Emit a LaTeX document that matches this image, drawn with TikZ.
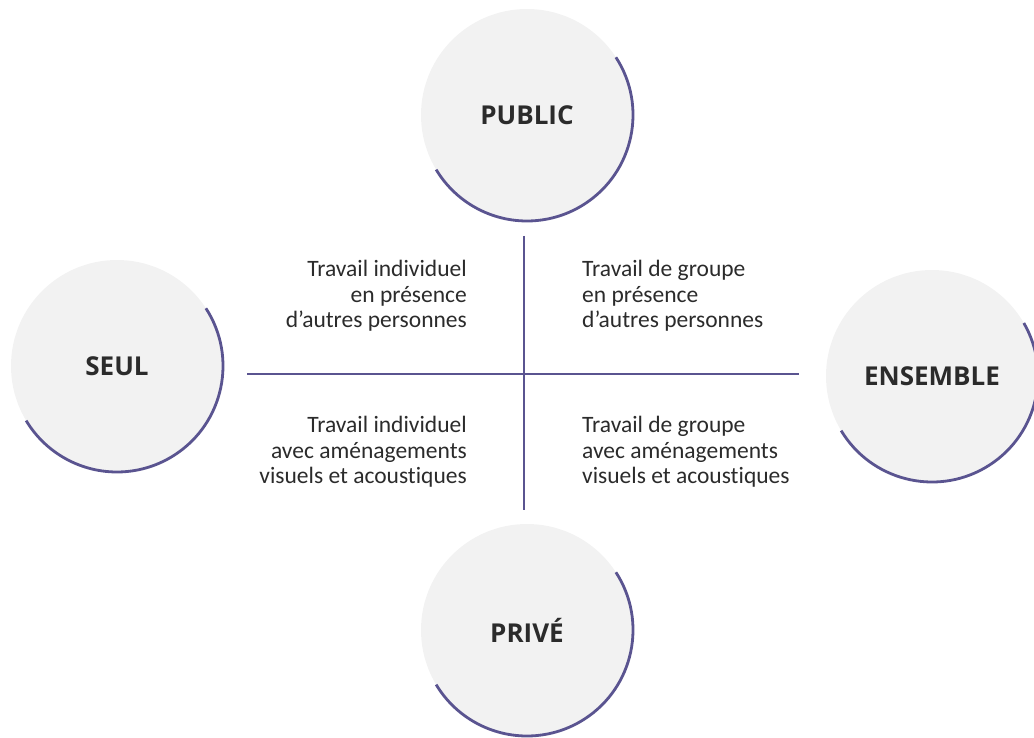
\documentclass[tikz,border=0pt]{standalone}
\usepackage{fontspec}
\setmainfont{Carlito}[Ligatures=NoCommon]
\newfontfamily\labelfont{Open Sans}
\usetikzlibrary{calc}
\definecolor{rimpurple}{HTML}{5A5490}
\definecolor{discgray}{HTML}{F2F2F2}
\definecolor{inkgray}{HTML}{2B2B2B}

\begin{document}
\begin{tikzpicture}[x=1pt,y=1pt,
  disc/.style={circle,fill=discgray,minimum size=212pt,inner sep=0pt,outer sep=0pt,
    font=\labelfont\bfseries\fontsize{26}{30}\selectfont,text=inkgray},
  rim/.style={rimpurple,line width=2.8pt},
  axe/.style={rimpurple,line width=2.6pt},
  quad/.style={font=\fontsize{23.5}{25.5}\selectfont,text=inkgray,inner sep=0pt}]
\useasboundingbox (0,0) rectangle (1034,737);
\node[disc] (public) at (527,622) {PUBLIC};
\node[disc] (seul) at (117,371) {SEUL};
\node[disc] (ensemble) at (932,361) {ENSEMBLE};
\node[disc] (prive) at (527,107) {PRIVÉ};
\draw[rim] (public.33) arc[start angle=33,end angle=-149,radius=106pt];
\draw[rim] (seul.33) arc[start angle=33,end angle=-149,radius=106pt];
\draw[rim] (ensemble.30) arc[start angle=30,end angle=-149,radius=106pt];
\draw[rim] (prive.33) arc[start angle=33,end angle=-149,radius=106pt];
\coordinate (mid) at (524,363);
\draw[axe,shorten <=24pt,shorten >=27pt] (seul.east |- mid) -- (ensemble.west |- mid);
\draw[axe,shorten <=15pt,shorten >=14pt] (public.south -| mid) -- (prive.north -| mid);
\node[quad,anchor=east,align=right] (indpub) at (467,441) {Travail individuel\\en présence\\d’autres personnes};
\node[quad,anchor=west,align=left] (grppub) at (582,441) {Travail de groupe\\en présence\\d’autres personnes};
\node[quad,anchor=east,align=right] (indpriv) at (467,285) {Travail individuel\\avec aménagements\\visuels et acoustiques};
\node[quad,anchor=west,align=left] (grppriv) at (582,285) {Travail de groupe\\avec aménagements\\visuels et acoustiques};
\end{tikzpicture}
\end{document}
